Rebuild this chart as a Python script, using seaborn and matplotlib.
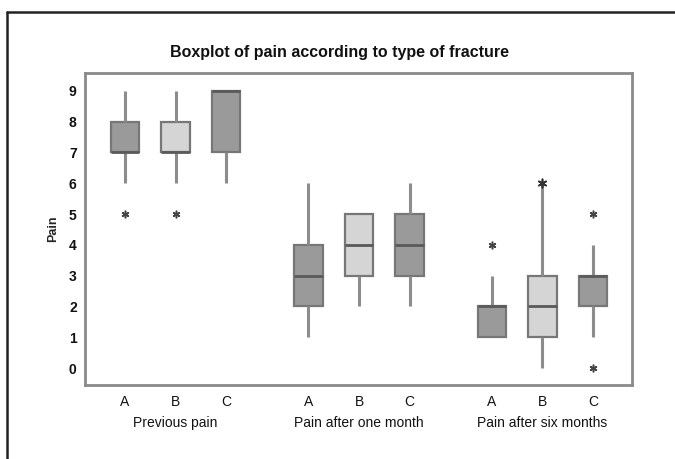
import pandas as pd
import matplotlib.pyplot as plt
import seaborn as sns
from matplotlib.lines import Line2D

sns.set_theme(style="white")
plt.rcParams['font.family'] = ['Liberation Sans', 'DejaVu Sans']

# raw pain scores per period and fracture type (read back from the box summaries)
periods = ['Previous pain', 'Pain after one month', 'Pain after six months']
fracture_types = ['A', 'B', 'C']
previous_pain = {
    'A': [5, 6, 7, 7, 7, 8, 8, 9, 9],
    'B': [5, 6, 7, 7, 7, 7, 8, 8, 9],
    'C': [6, 7, 7, 8, 9, 9, 9, 9, 9],
}
one_month = {
    'A': [1, 2, 2, 3, 3, 3, 4, 5, 6],
    'B': [2, 3, 3, 4, 4, 5, 5, 5, 5],
    'C': [2, 3, 3, 4, 4, 4, 5, 5, 6],
}
six_months = {
    'A': [1, 1, 1, 2, 2, 2, 2, 3, 4],
    'B': [0, 1, 1, 2, 2, 2, 3, 4, 6],
    'C': [0, 1, 2, 3, 3, 3, 3, 4, 5],
}
# extra star drawn on top of the six-month B whisker
extra_period = ['Pain after six months']
extra_type = ['B']
extra_value = [6]

group_offset = {'Previous pain': 0.0, 'Pain after one month': 3.62, 'Pain after six months': 7.24}
type_offset = {'A': 0, 'B': 1, 'C': 2}

rows = []
for period, d in zip(periods, [previous_pain, one_month, six_months]):
    for t in fracture_types:
        for v in d[t]:
            rows.append({'pos': group_offset[period] + type_offset[t], 'type': t, 'pain': v})
df = pd.DataFrame(rows)

extra = pd.DataFrame({
    'pos': [group_offset[p] + type_offset[t] for p, t in zip(extra_period, extra_type)],
    'pain': extra_value,
})

dark, light = '#9a9a9a', '#d5d5d5'
palette = {'A': dark, 'B': light, 'C': dark}
star = (6, 2, 0)

fig = plt.figure(figsize=(6.75, 4.59), dpi=100)
ax = fig.add_axes([85 / 675, 1 - 385 / 459, (632 - 85) / 675, (385 - 73) / 459])

sns.boxplot(data=df, x='pos', y='pain', hue='type', palette=palette, native_scale=True,
            dodge=False, width=0.56, legend=False, ax=ax, showcaps=False,
            linecolor='#777777', linewidth=1.6,
            whiskerprops=dict(color='#8c8c8c', linewidth=2.2),
            medianprops=dict(color='#5a5a5a', linewidth=2.0),
            flierprops=dict(marker=star, markersize=5.5, markeredgecolor='#444444',
                            markerfacecolor='#444444', markeredgewidth=1.1))
sns.scatterplot(data=extra, x='pos', y='pain', marker=star, s=36, color='#333333',
                edgecolor='#333333', linewidth=1.2, ax=ax, zorder=5)

ax.set_xlim(-0.79, 9.24 + 0.77)
ax.set_ylim(-0.55, 9.58)
ax.set_yticks(range(10))
ax.set_yticklabels([str(i) for i in range(10)], fontsize=10, fontweight='bold', color='#111111')

ticks = [group_offset[p] + type_offset[t] for p in periods for t in fracture_types]
ax.set_xticks(ticks)
ax.set_xticklabels(fracture_types * 3, fontsize=10, color='#111111')
ax.tick_params(axis='both', length=4, width=1.2, color='#888888', direction='out', pad=3)
ax.tick_params(axis='y', pad=2)
for s in ax.spines.values():
    s.set_color('#8a8a8a')
    s.set_linewidth(2)

ax.set_xlabel('')
ax.set_ylabel('Pain', fontsize=9, fontweight='bold', labelpad=7)
for p in periods:
    ax.text(group_offset[p] + 1, -0.1, p, transform=ax.get_xaxis_transform(),
            ha='center', va='top', fontsize=10, color='#111111')

fig.text(340 / 675, 1 - 53 / 459, 'Boxplot of pain according to type of fracture',
         ha='center', va='center', fontsize=11.5, fontweight='bold', color='#111111')

# outer frame (top and left edges visible)
fig.add_artist(Line2D([7 / 675, 1.0], [1 - 12 / 459, 1 - 12 / 459], transform=fig.transFigure,
                      color='#222222', linewidth=1.8))
fig.add_artist(Line2D([7 / 675, 7 / 675], [0.0, 1 - 12 / 459], transform=fig.transFigure,
                      color='#222222', linewidth=1.8))

fig.savefig('out.png', dpi=100)
